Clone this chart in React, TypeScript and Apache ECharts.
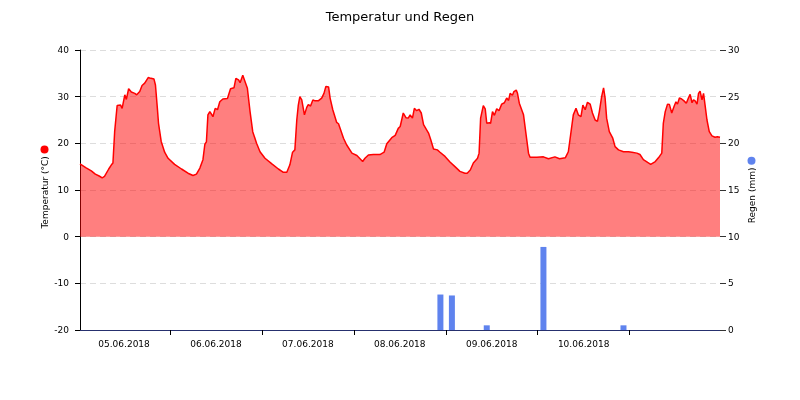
import React, { useEffect, useRef } from "react";
import * as echarts from "echarts";

const FONT = "DejaVu Sans";
const HOUR = 3600 * 1000;
const BASE = new Date(2018, 5, 5, 0, 0, 0).getTime();

// day ticks (hours since 05.06.2018 00:00) and day labels (placed at noon)
const dayTickHours = [24, 48, 72, 96, 120, 144];
const dayLabelHours = [12, 36, 60, 84, 108, 132];

// hours since 05.06.2018 00:00
const tempHours = [
  0.5, 2, 3.45, 4.5, 5.5, 6.3, 6.9, 8, 8.7, 9.1, 9.55, 10.2, 11.1, 11.5, 12.2, 12.6, 13.2, 13.9, 14.8, 15.3,
  16.1, 16.7, 17.4, 18.3, 18.7, 19.3, 19.8, 20.2, 20.7, 21.0, 21.7, 22.6, 23.5,
  25.2, 27.0, 28.7, 30.0, 30.9, 31.8, 32.6, 33.1, 33.5, 33.9, 34.4, 34.7, 35.2, 35.8, 36.4, 37.0, 37.8, 39.0,
  39.8, 40.7, 41.2, 41.9, 42.3, 43.0, 43.6, 44.2, 44.9, 45.6, 46.6, 47.5, 48.8,
  50.6, 52.3, 53.6, 54.5, 55.3, 56.0, 56.6, 57.1, 57.5, 57.9, 58.4, 59.1, 59.7, 60.1, 60.7, 61.3, 61.9, 62.7,
  63.6, 64.2, 64.7, 65.4, 65.8, 66.5, 67.5, 68.0, 69.3, 70.1, 71.5,
  72.8, 74.3, 74.9, 75.8, 77.1, 78.8, 79.9, 80.6, 81.9, 82.8, 83.6, 84.1, 84.9, 85.6, 86.2, 86.7, 87.3, 87.8,
  88.4, 89.0, 89.6, 90.2, 91.5, 92.1, 92.8, 93.8, 94.5, 95.8,
  97.1, 98.4, 99.7, 101.0, 101.6, 102.4, 103.2, 104.3, 104.7, 105.1, 105.8, 106.3, 106.7, 107.4, 107.7, 108.2,
  108.7, 109.3, 109.9, 110.6, 111.3, 111.9, 112.4, 112.8, 113.4, 113.8, 114.4, 114.7, 115.2, 116.3, 117.2,
  117.6, 118.0, 119.8,
  121.5, 122.8, 124.5, 125.7, 127.2, 128.0, 128.6, 129.3, 130.0, 130.6, 131.3, 131.8, 132.4, 133.0, 133.7,
  134.3, 135.0, 135.6, 136.1, 136.7, 137.2, 137.6, 138.0, 138.7, 139.6, 140.2, 141.1, 142.4, 143.7,
  144.6, 145.9, 146.7, 147.6, 148.7, 149.5, 150.7, 151.8, 152.4, 152.8, 153.3, 153.9, 154.4, 155.0, 155.6,
  156.1, 156.5, 157.0, 157.6, 158.2, 158.8, 159.4, 159.8, 160.3, 160.7, 161.1, 161.6, 162.0, 162.4, 162.9,
  163.3, 163.7, 164.2, 164.8, 165.5, 166.3, 166.9, 167.6,
];

const tempValues = [
  15.6, 14.8, 14.1, 13.4, 13.0, 12.6, 12.9, 14.5, 15.4, 15.8, 22.5, 28.1, 28.2, 27.5, 30.4, 29.4, 31.7, 31.0, 30.7, 30.4,
  31.1, 32.4, 32.9, 34.1, 34.0, 33.9, 33.8, 32.5, 27.5, 24.3, 20.4, 18.1, 16.8,
  15.5, 14.5, 13.6, 13.1, 13.4, 14.7, 16.5, 19.8, 20.3, 26.1, 26.8, 26.4, 25.7, 27.5, 27.2, 28.9, 29.5, 29.6,
  31.7, 31.9, 33.9, 33.6, 33.0, 34.6, 33.2, 31.8, 26.8, 22.5, 20.0, 18.2, 16.8,
  15.6, 14.5, 13.8, 13.8, 15.4, 18.1, 18.6, 25.0, 28.2, 30.0, 29.3, 26.1, 27.7, 28.3, 28.0, 29.3, 29.1, 29.1,
  29.7, 30.7, 32.2, 32.1, 29.7, 27.2, 24.5, 24.2, 21.1, 19.7, 17.9,
  17.4, 16.1, 16.8, 17.5, 17.6, 17.6, 18.1, 19.9, 21.2, 21.7, 23.2, 23.6, 26.5, 25.5, 25.4, 26.1, 25.4, 27.5,
  27.0, 27.3, 26.5, 24.0, 22.2, 20.7, 18.8, 18.6, 18.1, 17.2,
  16.0, 15.0, 14.0, 13.6, 13.6, 14.3, 15.8, 16.8, 17.9, 25.4, 28.1, 27.4, 24.3, 24.4, 24.3, 26.8,
  26.0, 27.4, 27.0, 28.4, 28.7, 29.7, 29.2, 30.7, 30.3, 31.1, 31.4, 30.8, 28.6, 26.1, 20.4,
  17.9, 17.0, 17.0,
  17.1, 16.7, 17.1, 16.7, 16.9, 18.2, 21.8, 26.1, 27.5, 26.1, 25.7, 28.2, 27.2, 28.8, 28.4,
  26.5, 25.0, 24.7, 26.8, 30.0, 31.9, 29.7, 25.4, 22.5, 21.1, 19.3, 18.6, 18.2, 18.2,
  18.1, 17.9, 17.6, 16.5, 15.9, 15.5, 16.1, 17.2, 17.9, 24.3, 26.8, 28.4, 28.3, 26.5, 27.9,
  28.9, 28.4, 29.7, 29.5, 29.1, 28.6, 29.8, 30.5, 28.7, 29.3, 29.1, 28.4, 30.7, 31.2, 29.3,
  30.7, 28.2, 25.0, 22.5, 21.6, 21.3, 21.4, 21.3,
];

const rainHours = [94.6, 97.6, 106.7, 121.5, 142.4];
const rainValues = [3.8, 3.7, 0.5, 8.9, 0.5];

const leftTicks = { min: -20, max: 40, interval: 10 };
const rightTicks = { min: 0, max: 30, interval: 5 };

const RED = "#ff0000";
const BLUE = "#5f83ee";

const pad = (n: number) => (n < 10 ? "0" + n : "" + n);
const fmtHour = (h: number) => {
  const d = new Date(BASE + h * HOUR);
  return pad(d.getDate()) + "." + pad(d.getMonth() + 1) + "." + d.getFullYear();
};

export default function App() {
  const ref = useRef<HTMLDivElement>(null);

  useEffect(() => {
    if (!ref.current) return;
    const chart = echarts.init(ref.current, undefined, { renderer: "svg" });
    const tempData = tempHours.map((h, i) => [h, tempValues[i]]);
    const rainData = rainHours.map((h, i) => [h, rainValues[i]]);
    const labelStyle = { fontFamily: FONT, fontSize: 9, color: "#000" };

    chart.setOption({
      animation: false,
      title: {
        text: "Temperatur und Regen",
        left: "center",
        top: 10,
        padding: 0,
        textStyle: { fontFamily: FONT, fontSize: 13, fontWeight: "normal", color: "#000" },
      },
      grid: { left: 80, right: 80, top: 50, bottom: 70 },
      xAxis: [
        {
          type: "value",
          min: tempHours[0],
          max: tempHours[tempHours.length - 1],
          position: "bottom",
          axisLine: { show: true, onZero: false, lineStyle: { color: "#26306e", width: 1 } },
          axisTick: {
            show: true,
            length: 5,
            lineStyle: { color: "#000" },
            customValues: dayTickHours,
          },
          axisLabel: {
            ...labelStyle,
            margin: 9,
            hideOverlap: false,
            customValues: dayLabelHours,
            formatter: (v: number) => fmtHour(v),
          },
          splitLine: { show: false },
        },
      ],
      yAxis: [
        {
          type: "value",
          ...leftTicks,
          position: "left",
          name: "Temperatur (°C) {d| }",
          nameLocation: "middle",
          nameRotate: 90,
          nameGap: 31,
          nameMoveOverlap: false,
          nameTextStyle: {
            ...labelStyle,
            padding: [0, 0, 0, 6],
            rich: { d: { width: 8, height: 8, borderRadius: 4, backgroundColor: RED } },
          },
          axisLine: { show: true, onZero: false, lineStyle: { color: "#000" } },
          axisTick: { show: true, length: 5, lineStyle: { color: "#000" } },
          axisLabel: { ...labelStyle, margin: 11 },
          splitLine: { show: true, lineStyle: { color: "#dddddd", width: 1, type: [6, 4] } },
        },
        {
          type: "value",
          ...rightTicks,
          position: "right",
          name: "Regen (mm) {d| }",
          nameLocation: "middle",
          nameRotate: 90,
          nameGap: 27,
          nameMoveOverlap: false,
          nameTextStyle: {
            ...labelStyle,
            padding: 0,
            rich: { d: { width: 8, height: 8, borderRadius: 4, backgroundColor: BLUE } },
          },
          axisLine: { show: false, onZero: false },
          axisTick: { show: true, length: 6, lineStyle: { color: "#333" } },
          axisLabel: { ...labelStyle, margin: 8 },
          splitLine: { show: false },
        },
      ],
      series: [
        {
          name: "Temperatur",
          type: "line",
          xAxisIndex: 0,
          yAxisIndex: 0,
          data: tempData,
          showSymbol: false,
          symbol: "none",
          lineStyle: { color: RED, width: 1.5 },
          itemStyle: { color: RED },
          areaStyle: { color: RED, opacity: 0.5 },
          z: 2,
        },
        {
          name: "Regen",
          type: "bar",
          xAxisIndex: 0,
          yAxisIndex: 1,
          data: rainData,
          barWidth: 6,
          itemStyle: { color: BLUE },
          z: 3,
        },
      ],
    });
    return () => chart.dispose();
  }, []);

  return <div ref={ref} style={{ position: "fixed", left: 0, top: 0, width: 800, height: 400 }} />;
}
